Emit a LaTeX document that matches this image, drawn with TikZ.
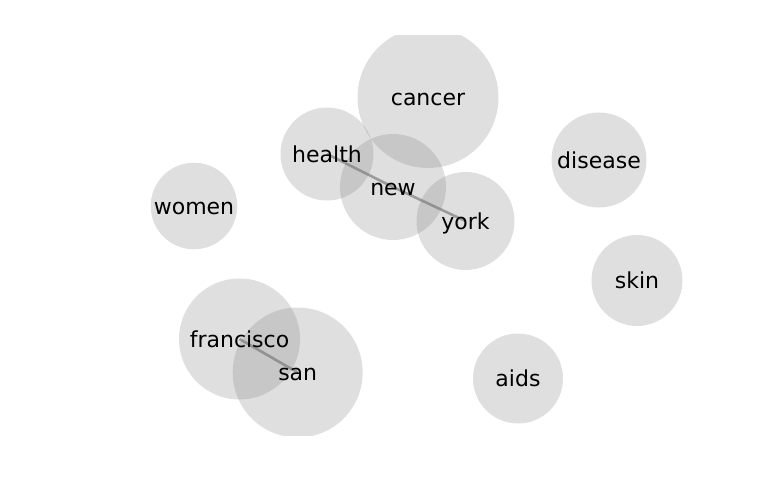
\documentclass[tikz,border=0pt]{standalone}
\usepackage{fontspec}
\setmainfont{DejaVu Sans}
\usepackage{tikz}
\usetikzlibrary{positioning}
\definecolor{bubble}{RGB}{128,128,128}
\definecolor{link}{RGB}{110,110,110}

\begin{document}
\begin{tikzpicture}[x=1pt, y=-1pt,
  bubble/.style={circle, fill=bubble, fill opacity=0.25, inner sep=0pt, minimum size=#1},
  word/.style={font=\fontsize{22}{24}\selectfont, text=black, inner sep=0pt,
    text height=16.7pt, text depth=4.6pt, yshift=-2pt},
  link/.style={draw=link, line width=2.6pt, opacity=0.6}]
  \useasboundingbox (0,0) rectangle (768,500);
  \begin{scope}
  \clip (0,36) rectangle (768,435);
  % bubbles
  \node[bubble=141pt] (cancer) at (428,97.5) {};
  \node[bubble=93pt] (health) at (327,154) {};
  \node[bubble=106pt] (new) at (393,187) {};
  \node[bubble=98pt] (york) at (465.5,221) {};
  \node[bubble=95pt] (disease) at (599,160) {};
  \node[bubble=86.6pt] (women) at (194,206) {};
  \node[bubble=91pt] (skin) at (637,280.5) {};
  \node[bubble=121pt] (francisco) at (239.5,339) {};
  \node[bubble=130pt] (san) at (297.7,372.5) {};
  \node[bubble=90pt] (aids) at (518,378.5) {};
  % links
  \draw[link] (health.center) -- (new.center);
  \draw[link] (new.center) -- (york.center);
  \draw[link] (francisco.center) -- (san.center);
  % words
  \node[word] (cancer-w) at (cancer) {cancer};
  \node[word] (health-w) at (health) {health};
  \node[word] (new-w) at (new) {new};
  \node[word] (york-w) at (york) {york};
  \node[word] (disease-w) at (disease) {disease};
  \node[word] (women-w) at (women) {women};
  \node[word] (skin-w) at (skin) {skin};
  \node[word] (francisco-w) at (francisco) {francisco};
  \node[word] (san-w) at (san) {san};
  \node[word] (aids-w) at (aids) {aids};
  \end{scope}
\end{tikzpicture}
\end{document}
